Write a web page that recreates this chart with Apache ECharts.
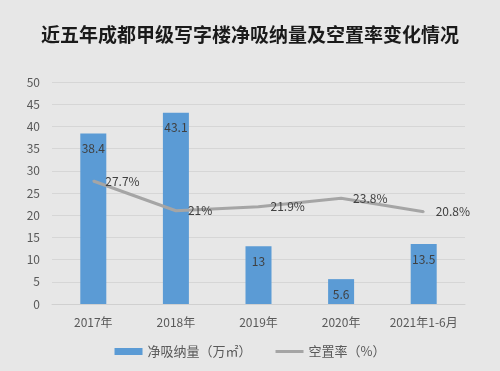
<!DOCTYPE html>
<html><head><meta charset="utf-8">
<script src="https://cdn.jsdelivr.net/npm/echarts@6/dist/echarts.min.js"></script>
<style>html,body{margin:0;padding:0;background:#fff;}#c{width:500px;height:371px;}</style>
</head><body><div id="c"></div>
<script>
const categories = ['2017年','2018年','2019年','2020年','2021年1-6月'];
const absorption = [38.4, 43.1, 13, 5.6, 13.5];
const vacancy = [27.7, 21, 21.9, 23.8, 20.8];
const yTicks = {min: 0, max: 50, interval: 5};
const chart = echarts.init(document.getElementById('c'), null, {renderer: 'canvas'});
const font = '"Noto Sans CJK SC", "Noto Sans", sans-serif';
chart.setOption({
  backgroundColor: '#e7e7e7',
  animation: false,
  title: {
    text: '近五年成都甲级写字楼净吸纳量及空置率变化情况',
    left: 'center', top: 20,
    textStyle: {fontFamily: font, fontSize: 19, fontWeight: 'bold', color: '#1a1a1a'}
  },
  grid: {left: 52, right: 35, top: 82, bottom: 67},
  legend: {
    bottom: 8, left: 'center', itemGap: 24, itemWidth: 28,
    textStyle: {fontFamily: font, fontSize: 13, color: '#595959'},
    data: [
      {name: '净吸纳量（万㎡）', icon: 'rect', itemStyle: {color: '#5b9bd5'}},
      {name: '空置率（%）', icon: 'path://M0,0L28,0L28,3L0,3Z', itemStyle: {color: '#a5a5a5', opacity: 1}}
    ],
    itemHeight: 7
  },
  xAxis: {
    type: 'category', data: categories,
    axisLine: {lineStyle: {color: '#d0d0d0'}}, axisTick: {show: false},
    axisLabel: {interval: 0, fontFamily: font, fontSize: 12, color: '#595959', margin: 12}
  },
  yAxis: {
    type: 'value', min: yTicks.min, max: yTicks.max, interval: yTicks.interval,
    axisLine: {show: false}, axisTick: {show: false},
    splitLine: {lineStyle: {color: '#d6d6d6'}},
    axisLabel: {fontFamily: font, fontSize: 12, color: '#595959', margin: 12}
  },
  series: [
    {
      name: '净吸纳量（万㎡）', type: 'bar', data: absorption, barWidth: 26,
      itemStyle: {color: '#5b9bd5'},
      label: {show: true, position: 'insideTop', distance: 9, fontFamily: font, fontSize: 12, color: '#404040'}
    },
    {
      name: '空置率（%）', type: 'line', data: vacancy,
      symbol: 'circle', symbolSize: 2, showSymbol: true,
      lineStyle: {color: '#a5a5a5', width: 3}, itemStyle: {color: '#a5a5a5'},
      label: {show: true, position: 'right', distance: 11, offset: [0, 1], fontFamily: font, fontSize: 12, color: '#404040', formatter: '{c}%'},
      labelLayout: {hideOverlap: false}
    }
  ]
});
</script></body></html>
